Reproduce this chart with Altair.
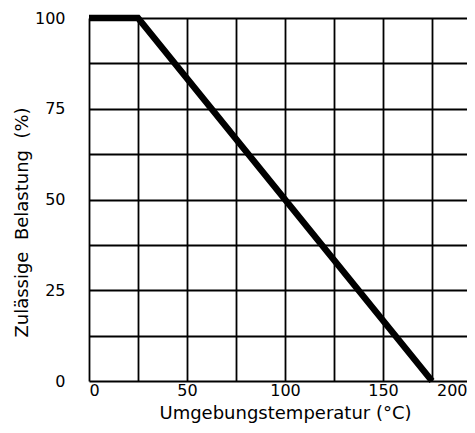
import altair as alt
import pandas as pd

# Derating curve: permissible load vs ambient temperature
temp = [0, 25, 175]
load = [100, 100, 0]

x_ticks = [0, 25, 50, 75, 100, 125, 150, 175, 200]
y_ticks = [0, 12.5, 25, 37.5, 50, 62.5, 75, 87.5, 100]

df = pd.DataFrame({"temp": temp, "load": load})

FONT = "DejaVu Sans"
PLOT_W = 378      # visible plot width (the original is cropped on the right)
FULL_W = 392      # width of the full 0..200 range

chart = (
    alt.Chart(df)
    .mark_line(color="black", strokeWidth=6.5, strokeJoin="miter", strokeCap="butt")
    .encode(
        x=alt.X(
            "temp:Q",
            scale=alt.Scale(domain=[0, 200], range=[0, FULL_W], nice=False, zero=False),
            axis=alt.Axis(
                title="Umgebungstemperatur (°C)",
                values=x_ticks,
                labelExpr="datum.value % 50 == 0 ? datum.label : ''",
                labelFlush=True,
                labelOffset=alt.condition("datum.value == 200", alt.value(-14), alt.value(0)),
                labelPadding=1,
                titlePadding=6,
                ticks=False,
                domain=False,
                grid=True,
                gridColor="black",
                gridWidth=1.8,
                gridOpacity=1,
                labelFont=FONT,
                labelFontSize=16,
                labelColor="black",
                titleFont=FONT,
                titleFontSize=18,
                titleFontWeight="normal",
                titleColor="black",
            ),
        ),
        y=alt.Y(
            "load:Q",
            scale=alt.Scale(domain=[0, 100], nice=False),
            axis=alt.Axis(
                title="Zulässige\u00a0\u00a0Belastung\u00a0\u00a0(%)",
                values=y_ticks,
                labelExpr="datum.value % 25 == 0 ? datum.label : ''",
                labelPadding=24,
                titlePadding=3,
                titleY=204,
                ticks=False,
                domain=False,
                grid=True,
                gridColor="black",
                gridWidth=1.8,
                gridOpacity=1,
                labelFont=FONT,
                labelFontSize=16,
                labelColor="black",
                titleFont=FONT,
                titleFontSize=18,
                titleFontWeight="normal",
                titleColor="black",
            ),
        ),
    )
    .properties(
        width=PLOT_W,
        height=363,
        autosize=alt.AutoSizeParams(type="none"),
        padding={"left": 81, "top": 10, "right": 0, "bottom": 44},
        background="white",
    )
    .configure_view(strokeWidth=0)
)

chart.save("out.html", embed_options={"renderer": "svg", "actions": False})
